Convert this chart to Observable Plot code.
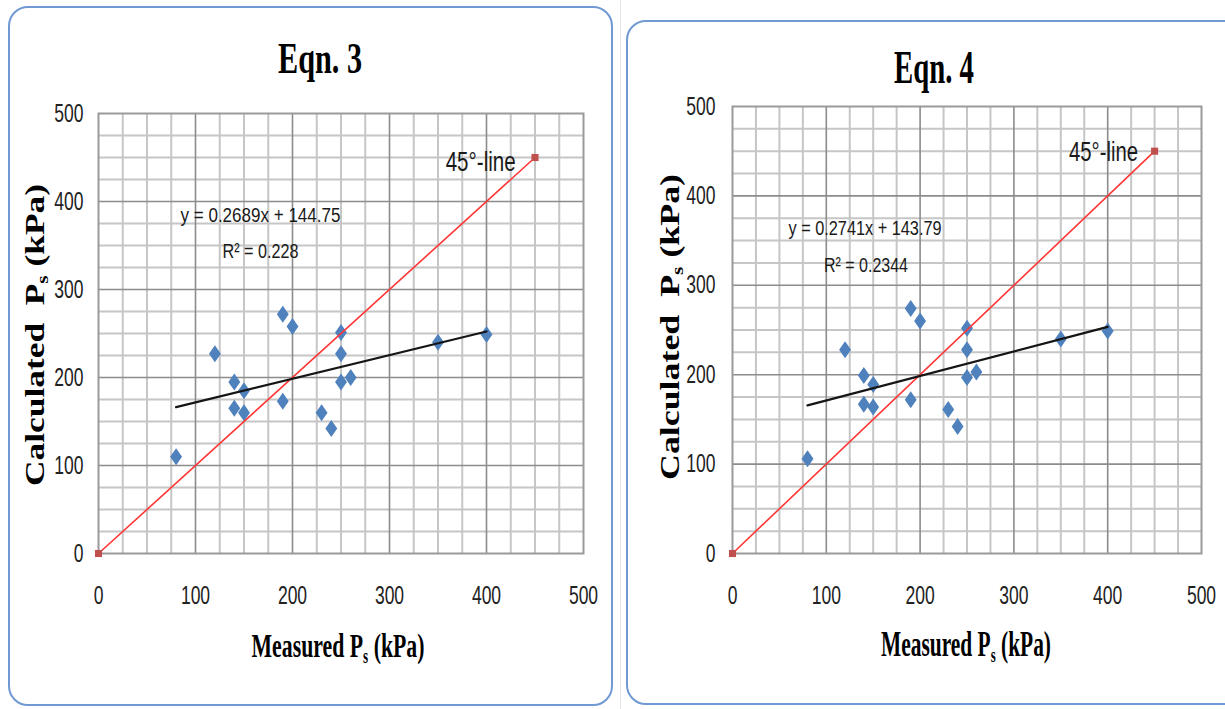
<!DOCTYPE html>
<html>
<head>
<meta charset="utf-8">
<script src="https://cdn.jsdelivr.net/npm/d3@7"></script>
<script src="https://cdn.jsdelivr.net/npm/@observablehq/plot@0.6"></script>
<style>
  html, body { margin: 0; padding: 0; background: #fff; }
  body { width: 1225px; height: 709px; overflow: hidden; position: relative; }
  .sheetline { position: absolute; background: #e3e3e3; }
  .panel { position: absolute; border: 2px solid #7199d4; border-radius: 20px; background: #fff; box-sizing: border-box; }
  .plotwrap { position: absolute; top: 0; }
  .plotwrap svg { display: block; background: transparent; overflow: visible; }
  .lbl { position: absolute; white-space: nowrap; font-family: "Liberation Serif", "Times New Roman", serif; font-weight: bold; color: #000; line-height: 1; }
  .lbl sub { font-size: 0.6em; line-height: 0; vertical-align: -0.3em; }
</style>
</head>
<body>
<script>
// ---------- data ----------
const measuredPs      = [80, 120, 140, 140, 150, 150, 190, 200, 190, 230, 240, 250, 250, 250, 260, 350, 400];
const calculatedEqn3  = [110, 227, 195, 165, 185, 160, 272, 258, 173, 160, 142, 251, 227, 195, 200, 240, 249];
const calculatedEqn4  = [106, 228, 199, 167, 189, 164, 274, 260, 172, 161, 142, 252, 228, 197, 203, 240, 249];
const fitEqn3 = [0.2689, 144.75];
const fitEqn4 = [0.2741, 143.79];
const r2Eqn3 = "0.228";
const r2Eqn4 = "0.2344";
const refLineX = [0, 450];
const refLineY = [0, 450];
const refLabel = "45°-line";
const axisTicks = [0, 100, 200, 300, 400, 500];
const minorGrid = [25, 50, 75, 125, 150, 175, 225, 250, 275, 325, 350, 375, 425, 450, 475];
const majorGrid = [100, 200, 300, 400];
const titles = ["Eqn. 3", "Eqn. 4"];
const xTitle = "Measured P<sub>s</sub> (kPa)";
const yTitle = "Calculated&nbsp; P<sub>s</sub> (kPa)";

// ---------- layout ----------
const panels = [
  { title: titles[0], calc: calculatedEqn3, fit: fitEqn3, r2: r2Eqn3,
    left: 0, width: 620, mL: 98, mR: 37, mT: 113, mB: 156, yPad: 15,
    eqPos: [167, 383.5], r2Pos: [167, 342.7], refPos: [394, 444.8],
    eqW: 160, r2W: 76, refW: 70,
    titleC: [320, 57.7, 45, 84], xtC: [338, 646, 34, 173], ytC: [35, 335, 27, 302],
    box: [8, 6, 605, 700] },
  { title: titles[1], calc: calculatedEqn4, fit: fitEqn4, r2: r2Eqn4,
    left: 620, width: 605, mL: 112, mR: 24, mT: 106, mB: 156, yPad: 17,
    eqPos: [141.3, 363.8], r2Pos: [142.3, 322.4], refPos: [395.5, 449.4],
    eqW: 153, r2W: 84, refW: 69,
    titleC: [934, 66.5, 47, 80], xtC: [965.5, 643.5, 36, 170], ytC: [670, 327, 27, 306],
    box: [626, 20, 620, 685] }
];

// faint spreadsheet line between the two chart objects
const sl = document.createElement("div");
sl.className = "sheetline";
Object.assign(sl.style, { left: "620px", top: "0px", width: "1px", height: "709px" });
document.body.appendChild(sl);

const diamond = {
  draw(ctx, size) {
    const r = Math.sqrt(size / Math.PI), w = r * 0.7;
    ctx.moveTo(0, -r); ctx.lineTo(w, 0); ctx.lineTo(0, r); ctx.lineTo(-w, 0); ctx.closePath();
  }
};

function condense(t, len) {
  t.setAttribute("textLength", len);
  t.setAttribute("lengthAdjust", "spacingAndGlyphs");
}

function label(html, cx, cy, size, len, rotate) {
  const d = document.createElement("div");
  d.className = "lbl";
  d.innerHTML = html;
  d.style.fontSize = size + "px";
  document.body.appendChild(d);
  const w = d.getBoundingClientRect().width;
  d.style.left = cx + "px";
  d.style.top = cy + "px";
  d.style.transform = `translate(-50%,-50%) ${rotate ? "rotate(-90deg)" : ""} scaleX(${len / w})`;
}

for (const p of panels) {
  const box = document.createElement("div");
  box.className = "panel";
  Object.assign(box.style, { left: p.box[0] + "px", top: p.box[1] + "px", width: p.box[2] + "px", height: p.box[3] + "px" });
  document.body.appendChild(box);

  const pts = measuredPs.map((x, i) => ({ x, y: p.calc[i] }));
  const trend = d3.extent(measuredPs).map(x => ({ x, y: p.fit[0] * x + p.fit[1] }));
  const ref = refLineX.map((x, i) => ({ x, y: refLineY[i] }));
  const eqText = `y = ${p.fit[0]}x + ${p.fit[1]}`;
  const r2Text = `R² = ${p.r2}`;

  const svg = Plot.plot({
    width: p.width, height: 709,
    marginLeft: p.mL, marginRight: p.mR, marginTop: p.mT, marginBottom: p.mB,
    style: { fontFamily: "Liberation Sans, Arial, sans-serif", fontSize: "25px", color: "#222", background: "transparent", overflow: "visible" },
    x: { domain: [0, 500], ticks: axisTicks, tickSize: 0, tickPadding: 33, label: null },
    y: { domain: [0, 500], ticks: axisTicks, tickSize: 0, tickPadding: p.yPad, label: null },
    marks: [
      Plot.ruleX(minorGrid, { stroke: "#c6c6c6", strokeWidth: 2 }),
      Plot.ruleY(minorGrid, { stroke: "#c6c6c6", strokeWidth: 2 }),
      Plot.ruleX(majorGrid, { stroke: "#8c8c8c", strokeWidth: 1.6 }),
      Plot.ruleY(majorGrid, { stroke: "#8c8c8c", strokeWidth: 1.6 }),
      Plot.frame({ stroke: "#9a9a9a", strokeWidth: 2 }),
      Plot.dot(pts, { x: "x", y: "y", symbol: diamond, r: 8.5, fill: "#4f81bd", stroke: "none" }),
      Plot.line(ref, { x: "x", y: "y", stroke: "#ff3636", strokeWidth: 1.6 }),
      Plot.dot(ref, { x: "x", y: "y", symbol: "square", r: 4, fill: "#c0504d" }),
      Plot.line(trend, { x: "x", y: "y", stroke: "#151515", strokeWidth: 2.2 }),
      Plot.text([eqText], { x: () => p.eqPos[0], y: () => p.eqPos[1], text: d => d, fontSize: 20, fill: "#1a1a1a" }),
      Plot.text([r2Text], { x: () => p.r2Pos[0], y: () => p.r2Pos[1], text: d => d, fontSize: 20, fill: "#1a1a1a" }),
      Plot.text([refLabel], { x: () => p.refPos[0], y: () => p.refPos[1], text: d => d, fontSize: 28, fill: "#1a1a1a" })
    ]
  });

  const wrap = document.createElement("div");
  wrap.className = "plotwrap";
  wrap.style.left = p.left + "px";
  wrap.appendChild(svg);
  document.body.appendChild(wrap);

  svg.querySelectorAll('g[aria-label="x-axis tick label"] text, g[aria-label="y-axis tick label"] text')
    .forEach(t => condense(t, t.getComputedTextLength() * 0.7));
  const widths = new Map([[eqText, p.eqW], [r2Text, p.r2W], [refLabel, p.refW]]);
  svg.querySelectorAll("text").forEach(t => {
    const w = widths.get(t.textContent);
    if (w) condense(t, w);
  });

  label(p.title, p.titleC[0], p.titleC[1], p.titleC[2], p.titleC[3], false);
  label(xTitle, p.xtC[0], p.xtC[1], p.xtC[2], p.xtC[3], false);
  label(yTitle, p.ytC[0], p.ytC[1], p.ytC[2], p.ytC[3], true);
}
</script>
</body>
</html>
